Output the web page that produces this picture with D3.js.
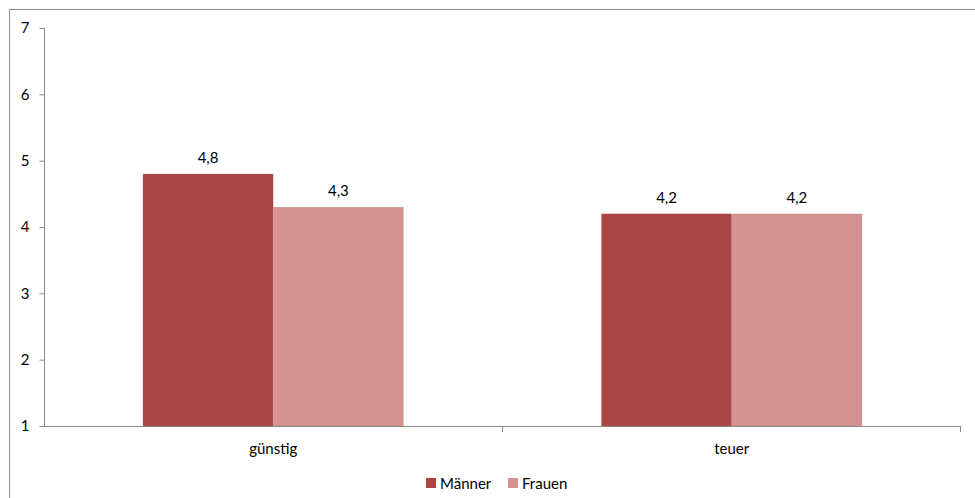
<!DOCTYPE html>
<html>
<head>
<meta charset="utf-8">
<script src="https://cdn.jsdelivr.net/npm/d3@7"></script>
<style>
  html, body { margin: 0; padding: 0; background: #fff; }
  svg { display: block; }
  text { font-family: Lato, "Open Sans", sans-serif; fill: #000; }
</style>
</head>
<body>
<svg id="chart" width="975" height="498"></svg>
<script>
// Chart data
const categories = ["günstig", "teuer"];
const seriesNames = ["Männer", "Frauen"];
const maenner = [4.8, 4.2];
const frauen = [4.3, 4.2];
const yTicks = [1, 2, 3, 4, 5, 6, 7];
const colors = ["#AA4643", "#D39393"];

const svg = d3.select("#chart");
const W = 975, H = 498;
const FONT = 15;

// outer frame
svg.append("rect")
  .attr("x", 9.5).attr("y", 9.5)
  .attr("width", W).attr("height", H)
  .attr("fill", "none").attr("stroke", "#8c8c8c").attr("stroke-width", 1);

const plot = { left: 44, right: 961, top: 28, bottom: 426 };

const y = d3.scaleLinear().domain([1, 7]).range([plot.bottom, plot.top]);
const x0 = d3.scaleBand().domain(categories).range([plot.left, plot.right]).paddingInner(0).paddingOuter(0);
const x1 = d3.scaleBand().domain(seriesNames).range([0, x0.bandwidth()]).paddingInner(0).paddingOuter(0.7586);

const rows = categories.map((c, i) => ({ cat: c, values: [maenner[i], frauen[i]] }));

// bars
const groups = svg.append("g").selectAll("g").data(rows).join("g")
  .attr("transform", d => `translate(${x0(d.cat)},0)`);

groups.selectAll("rect").data(d => d.values.map((v, j) => ({ v, s: seriesNames[j], j })))
  .join("rect")
  .attr("x", d => x1(d.s))
  .attr("width", x1.bandwidth())
  .attr("y", d => y(d.v))
  .attr("height", d => y(1) - y(d.v))
  .attr("fill", d => colors[d.j]);

// value labels
groups.selectAll("text.val").data(d => d.values.map((v, j) => ({ v, s: seriesNames[j] })))
  .join("text")
  .attr("class", "val")
  .attr("x", d => x1(d.s) + x1.bandwidth() / 2)
  .attr("y", d => y(d.v) - 11)
  .attr("text-anchor", "middle")
  .attr("font-size", FONT)
  .text(d => d3.format(".1f")(d.v).replace(".", ","));

// y axis
const yAxis = d3.axisLeft(y).tickValues(yTicks).tickSize(5).tickPadding(10)
  .tickFormat(d => d);
const gy = svg.append("g").attr("transform", `translate(${plot.left + 0.5},0)`).call(yAxis);
gy.select(".domain").attr("stroke", "#8c8c8c").attr("d", `M0,${plot.top}V${plot.bottom + 0.5}`);
gy.selectAll(".tick line").attr("stroke", "#8c8c8c");
gy.selectAll(".tick text").attr("font-size", FONT).attr("font-family", "Lato, 'Open Sans', sans-serif").attr("fill", "#000");

// x axis with boundary ticks between categories
const gx = svg.append("g");
gx.append("line")
  .attr("x1", plot.left).attr("x2", plot.right + 0.5)
  .attr("y1", plot.bottom + 0.5).attr("y2", plot.bottom + 0.5)
  .attr("stroke", "#8c8c8c");
const bounds = categories.map(c => x0(c) + x0.bandwidth());
gx.selectAll("line.b").data(bounds).join("line")
  .attr("class", "b")
  .attr("x1", d => Math.round(d) - 0.5).attr("x2", d => Math.round(d) - 0.5)
  .attr("y1", plot.bottom).attr("y2", plot.bottom + 6)
  .attr("stroke", "#8c8c8c");
gx.selectAll("text").data(categories).join("text")
  .attr("x", d => x0(d) + x0.bandwidth() / 2)
  .attr("y", 454)
  .attr("text-anchor", "middle")
  .attr("font-size", FONT)
  .text(d => d);

// legend
const legend = svg.append("g").attr("transform", "translate(426,478)");
const li = legend.selectAll("g").data(seriesNames).join("g")
  .attr("transform", (d, i) => `translate(${i * 82},0)`);
li.append("rect").attr("width", 10).attr("height", 10).attr("fill", (d, i) => colors[i]);
li.append("text").attr("x", 14).attr("y", 10.5).attr("font-size", FONT).text(d => d);
</script>
</body>
</html>
